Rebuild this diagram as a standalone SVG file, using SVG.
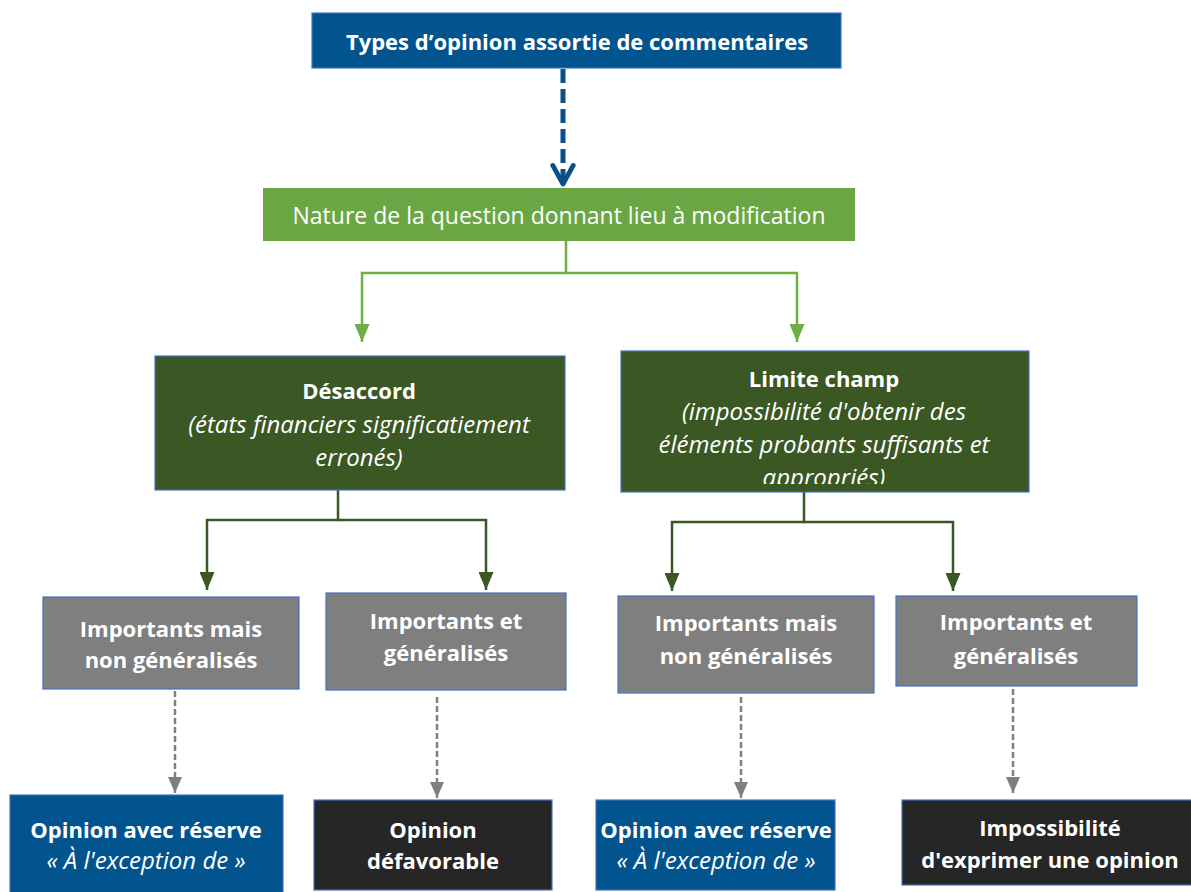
<svg xmlns="http://www.w3.org/2000/svg" width="1191" height="892" viewBox="0 0 1191 892">
  <defs>
    <style>
      .t { font-family: "Open Sans", "Noto Sans", "Liberation Sans", sans-serif; fill: #ffffff; text-anchor: middle; }
      .b { font-weight: bold; font-size: 22px; }
      .r { font-size: 23px; }
      .i { font-style: italic; font-size: 24px; }
      .box { stroke: #4472C4; stroke-width: 1.2; }
      .blue { fill: #02548E; }
      .green { fill: #6AA744; }
      .dkgreen { fill: #3A5724; }
      .gray { fill: #7F7F7F; }
      .dark { fill: #262626; }
      .c-green { fill: none; stroke: #6DAE45; stroke-width: 2.5; }
      .c-dkgreen { fill: none; stroke: #3A5724; stroke-width: 2.5; }
      .c-gray { fill: none; stroke: #7F7F7F; stroke-width: 2.5; stroke-dasharray: 6 3; }
      .c-blue { fill: none; stroke: #0B4F8A; stroke-width: 5; stroke-dasharray: 14 6; }
    </style>
    <marker id="ah-green" viewBox="0 0 18 15" refX="18" refY="7.5" markerWidth="18" markerHeight="15" markerUnits="userSpaceOnUse" orient="auto">
      <path d="M0,0 L18,7.5 L0,15 z" fill="#6DAE45"/>
    </marker>
    <marker id="ah-dkgreen" viewBox="0 0 18 15" refX="18" refY="7.5" markerWidth="18" markerHeight="15" markerUnits="userSpaceOnUse" orient="auto">
      <path d="M0,0 L18,7.5 L0,15 z" fill="#3A5724"/>
    </marker>
    <marker id="ah-gray" viewBox="0 0 16 14" refX="16" refY="7" markerWidth="16" markerHeight="14" markerUnits="userSpaceOnUse" orient="auto">
      <path d="M0,0 L16,7 L0,14 z" fill="#7F7F7F"/>
    </marker>
    <marker id="ah-blue" viewBox="0 0 14 14" refX="12" refY="7" markerWidth="26" markerHeight="26" markerUnits="userSpaceOnUse" orient="auto">
      <path d="M2,1.5 L12,7 L2,12.5" fill="none" stroke="#0B4F8A" stroke-width="2.6" stroke-linecap="round" stroke-linejoin="round"/>
    </marker>
    <clipPath id="clip-limite">
      <rect x="621" y="351" width="408" height="133"/>
    </clipPath>
  </defs>

  <rect width="1191" height="892" fill="#ffffff"/>

  <!-- connectors -->
  <g id="connectors">
    <path class="c-blue" d="M563,69 V184" marker-end="url(#ah-blue)"/>
    <path class="c-green" d="M566,241 V273 H362 V342" marker-end="url(#ah-green)"/>
    <path class="c-green" d="M566,273 H797 V342" marker-end="url(#ah-green)"/>
    <path class="c-dkgreen" d="M338,490 V520 H207 V590" marker-end="url(#ah-dkgreen)"/>
    <path class="c-dkgreen" d="M338,520 H486 V590" marker-end="url(#ah-dkgreen)"/>
    <path class="c-dkgreen" d="M804,492 V522 H672 V591" marker-end="url(#ah-dkgreen)"/>
    <path class="c-dkgreen" d="M804,522 H953 V591" marker-end="url(#ah-dkgreen)"/>
    <path class="c-gray" d="M175,691 V793" marker-end="url(#ah-gray)"/>
    <path class="c-gray" d="M437,697 V798" marker-end="url(#ah-gray)"/>
    <path class="c-gray" d="M741,697 V798" marker-end="url(#ah-gray)"/>
    <path class="c-gray" d="M1013,689 V793" marker-end="url(#ah-gray)"/>
  </g>

  <g id="types">
    <rect class="box blue" x="312" y="13" width="529" height="55"/>
    <text class="t b" x="577" y="50">Types d’opinion assortie de commentaires</text>
  </g>

  <g id="nature">
    <rect class="green" x="263" y="188" width="592" height="53"/>
    <text class="t r" x="559" y="224">Nature de la question donnant lieu à modification</text>
  </g>

  <g id="desaccord">
    <rect class="box dkgreen" x="155" y="356" width="410" height="134"/>
    <text class="t b" x="359" y="399">Désaccord</text>
    <text class="t i" x="359" y="433">(états financiers significatiement</text>
    <text class="t i" x="359" y="466">erronés)</text>
  </g>

  <g id="limite">
    <rect class="box dkgreen" x="621" y="351" width="408" height="141"/>
    <g clip-path="url(#clip-limite)">
      <text class="t b" x="824" y="387">Limite champ</text>
      <text class="t i" x="824" y="420">(impossibilité d'obtenir des</text>
      <text class="t i" x="824" y="453">éléments probants suffisants et</text>
      <text class="t i" x="824" y="486">appropriés)</text>
    </g>
  </g>

  <g id="desaccord-non-gen">
    <rect class="box gray" x="43" y="597" width="256" height="92"/>
    <text class="t b" x="171" y="637">Importants mais</text>
    <text class="t b" x="171" y="668">non généralisés</text>
  </g>

  <g id="desaccord-gen">
    <rect class="box gray" x="326" y="593" width="240" height="97"/>
    <text class="t b" x="446" y="629">Importants et</text>
    <text class="t b" x="446" y="661">généralisés</text>
  </g>

  <g id="limite-non-gen">
    <rect class="box gray" x="618" y="596" width="256" height="97"/>
    <text class="t b" x="746" y="631">Importants mais</text>
    <text class="t b" x="746" y="664">non généralisés</text>
  </g>

  <g id="limite-gen">
    <rect class="box gray" x="896" y="596" width="241" height="90"/>
    <text class="t b" x="1016" y="630">Importants et</text>
    <text class="t b" x="1016" y="664">généralisés</text>
  </g>

  <g id="reserve-1">
    <rect class="box blue" x="10" y="795" width="273" height="100"/>
    <text class="t b" x="146" y="838">Opinion avec réserve</text>
    <text class="t i" x="146" y="869">« À l'exception de »</text>
  </g>

  <g id="defavorable">
    <rect class="box dark" x="314" y="800" width="238" height="90"/>
    <text class="t b" x="433" y="838">Opinion</text>
    <text class="t b" x="433" y="869">défavorable</text>
  </g>

  <g id="reserve-2">
    <rect class="box blue" x="596" y="800" width="239" height="90"/>
    <text class="t b" x="716" y="838">Opinion avec réserve</text>
    <text class="t i" x="716" y="869">« À l'exception de »</text>
  </g>

  <g id="impossibilite">
    <rect class="box dark" x="902" y="800" width="295" height="85"/>
    <text class="t b" x="1050" y="836">Impossibilité</text>
    <text class="t b" x="1050" y="868">d'exprimer une opinion</text>
  </g>
</svg>
